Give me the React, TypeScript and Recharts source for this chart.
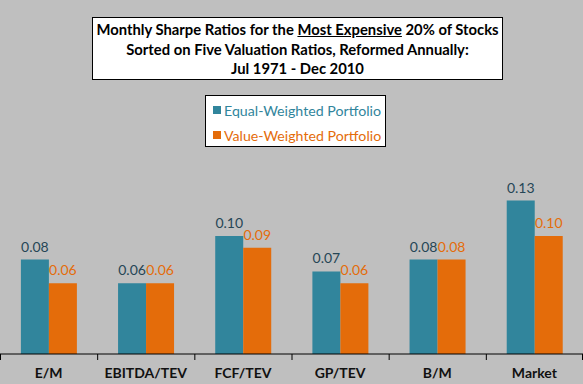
import React from "react";
import { BarChart, Bar, XAxis, YAxis, LabelList, Legend } from "recharts";

const categories = ["E/M", "EBITDA/TEV", "FCF/TEV", "GP/TEV", "B/M", "Market"];
const equalWeighted = [0.08, 0.06, 0.1, 0.07, 0.08, 0.13];
const valueWeighted = [0.06, 0.06, 0.09, 0.06, 0.08, 0.1];
const seriesNames = ["Equal-Weighted Portfolio", "Value-Weighted Portfolio"];
const titleLines = [
  "Monthly Sharpe Ratios for the ",
  "Most Expensive",
  " 20% of Stocks",
];

const data = categories.map((name, i) => ({
  name,
  ew: equalWeighted[i],
  vw: valueWeighted[i],
}));

const TEAL = "#31859C";
const ORANGE = "#E46C0A";
const BG = "#BFBFBF";
const FONT = "Lato, 'Open Sans', sans-serif";

const AxisTick = (props: any) => {
  const { x, y, payload, index, visibleTicksCount, width } = props;
  const count = visibleTicksCount || categories.length;
  const half = (Number(width) || 583) / count / 2;
  const axisY = y - 6;
  return (
    <g>
      <line x1={x - half + 0.5} x2={x - half + 0.5} y1={axisY} y2={axisY + 6} stroke="#000" strokeWidth={1} />
      {index === count - 1 && (
        <line x1={x + half - 0.5} x2={x + half - 0.5} y1={axisY} y2={axisY + 6} stroke="#000" strokeWidth={1} />
      )}
      <text x={x} y={axisY + 24} textAnchor="middle" fontFamily={FONT} fontWeight="bold" fontSize={14} fill="#111">
        {payload.value}
      </text>
    </g>
  );
};

const LegendBox = () => (
  <div
    style={{
      position: "absolute",
      left: 205,
      top: 95,
      width: 179,
      height: 50,
      background: "#fff",
      border: "1px solid #000",
      fontFamily: FONT,
      fontSize: 14.2,
      boxSizing: "content-box",
    }}
  >
    {seriesNames.map((s, i) => (
      <div
        key={s}
        style={{
          position: "absolute",
          left: 7,
          top: 5 + i * 25,
          height: 18,
          display: "flex",
          alignItems: "center",
          color: i === 0 ? TEAL : ORANGE,
          whiteSpace: "nowrap",
        }}
      >
        <span style={{ display: "inline-block", width: 8, height: 8, background: i === 0 ? TEAL : ORANGE, marginRight: 3 }} />
        {s}
      </div>
    ))}
  </div>
);

export default function App() {
  return (
    <div style={{ position: "absolute", left: 0, top: 0, width: 583, height: 384, background: BG, overflow: "hidden" }}>
      <BarChart
        width={583}
        height={384}
        data={data}
        margin={{ top: 177, right: 0, bottom: 0, left: 0 }}
        barCategoryGap="21.5%"
        barGap={0}
      >
        <XAxis
          dataKey="name"
          height={30}
          axisLine={{ stroke: "#000", strokeWidth: 1 }}
          tickLine={false}
          tickSize={6}
          tickMargin={0}
          interval={0}
          tick={<AxisTick />}
        />
        <YAxis hide domain={[0, 0.15]} />
        <Legend content={() => null} />
        <Bar dataKey="ew" name={seriesNames[0]} fill={TEAL} isAnimationActive={false}>
          <LabelList
            dataKey="ew"
            position="top"
            offset={8}
            formatter={(v: any) => Number(v).toFixed(2)}
            style={{ fontFamily: FONT, fontSize: 14, fill: "#264656" }}
          />
        </Bar>
        <Bar dataKey="vw" name={seriesNames[1]} fill={ORANGE} isAnimationActive={false}>
          <LabelList
            dataKey="vw"
            position="top"
            offset={8}
            formatter={(v: any) => Number(v).toFixed(2)}
            style={{ fontFamily: FONT, fontSize: 14, fill: ORANGE }}
          />
        </Bar>
      </BarChart>
      <div
        style={{
          position: "absolute",
          left: 92,
          top: 17,
          width: 411,
          height: 63,
          background: "#fff",
          border: "1px solid #000",
          fontFamily: FONT,
          fontWeight: "bold",
          fontSize: 14.8,
          lineHeight: "19.5px",
          textAlign: "center",
          color: "#000",
          paddingTop: 2,
          boxSizing: "border-box",
          whiteSpace: "nowrap",
        }}
      >
        <div>
          {titleLines[0]}
          <span style={{ textDecoration: "underline" }}>{titleLines[1]}</span>
          {titleLines[2]}
        </div>
        <div>Sorted on Five Valuation Ratios, Reformed Annually:</div>
        <div>Jul 1971 - Dec 2010</div>
      </div>
      <LegendBox />
    </div>
  );
}
